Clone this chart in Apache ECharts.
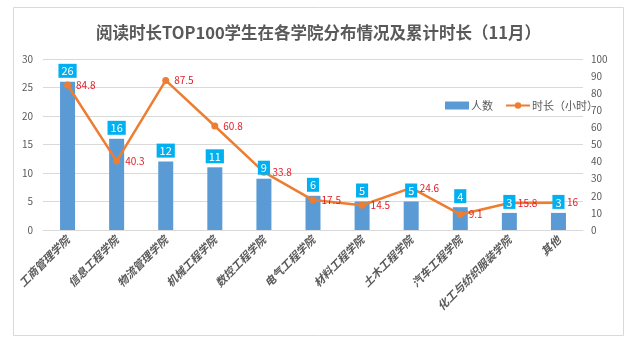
<!DOCTYPE html>
<html><head><meta charset="utf-8">
<script src="https://cdn.jsdelivr.net/npm/echarts@6/dist/echarts.min.js"></script>
<style>html,body{margin:0;padding:0;background:#fff}#c{width:637px;height:362px}</style>
</head><body><div id="c"></div>
<script>
var categories = ['工商管理学院','信息工程学院','物流管理学院','机械工程学院','数控工程学院','电气工程学院','材料工程学院','土木工程学院','汽车工程学院','化工与纺织服装学院','其他'];
var countValues = [26,16,12,11,9,6,5,5,4,3,3];
var hourValues = [84.8,40.3,87.5,60.8,33.8,17.5,14.5,24.6,9.1,15.8,16];
var leftTicks = {min:0,max:30,interval:5};
var rightTicks = {min:0,max:100,interval:10};

var chart = echarts.init(document.getElementById('c'));
var font = '"Microsoft YaHei","Noto Sans CJK SC",sans-serif';
chart.setOption({
  animation:false,
  graphic:[{type:'rect',shape:{x:13.5,y:7.5,width:610,height:328},style:{fill:'none',stroke:'#D9D9D9',lineWidth:1},z:-1}],
  title:{text:'阅读时长TOP100学生在各学院分布情况及累计时长（11月）',left:'center',top:19,
    textStyle:{fontFamily:font,fontSize:16.5,fontWeight:'bold',color:'#595959'}},
  legend:{right:34,top:95,itemGap:12,itemWidth:24,itemHeight:8,
    textStyle:{fontFamily:font,fontSize:11,color:'#595959',padding:[0,0,0,-3]},
    data:[{name:'人数',icon:'rect'},{name:'时长（小时）'}]},
  grid:{left:43,right:54,top:59,bottom:132},
  xAxis:{type:'category',data:categories,
    axisLine:{lineStyle:{color:'#D9D9D9'}},axisTick:{show:false},
    axisLabel:{rotate:45,interval:0,fontFamily:font,fontSize:11,fontStyle:'italic',fontWeight:'bold',color:'#595959',margin:8}},
  yAxis:[{type:'value',min:leftTicks.min,max:leftTicks.max,interval:leftTicks.interval,
      axisLine:{show:false},axisTick:{show:false},
      splitLine:{lineStyle:{color:'#D9D9D9'}},
      axisLabel:{fontFamily:font,fontSize:10,color:'#595959',margin:10}},
    {type:'value',min:rightTicks.min,max:rightTicks.max,interval:rightTicks.interval,
      axisLine:{show:false},axisTick:{show:false},splitLine:{show:false},
      axisLabel:{fontFamily:font,fontSize:10,color:'#595959',margin:8}}],
  series:[{name:'人数',type:'bar',data:countValues,barWidth:15,z:1,
      itemStyle:{color:'#5B9BD5'}},
    {name:'时长（小时）',type:'line',yAxisIndex:1,data:hourValues,z:2,
      symbol:'circle',symbolSize:7,
      lineStyle:{color:'#ED7D31',width:2.5},itemStyle:{color:'#ED7D31'},
      label:{show:true,position:'right',distance:5,color:'#E0202A',fontSize:10,fontFamily:font}},
    {name:'人数标签',type:'bar',data:countValues,barWidth:15,barGap:'-100%',z:5,silent:true,
      itemStyle:{color:'rgba(0,0,0,0)'},
      label:{show:true,position:'top',distance:4,color:'#fff',fontSize:11,fontFamily:font,
        backgroundColor:'#00B0F0',padding:[2,3,1,3]}}]
});
</script></body></html>
